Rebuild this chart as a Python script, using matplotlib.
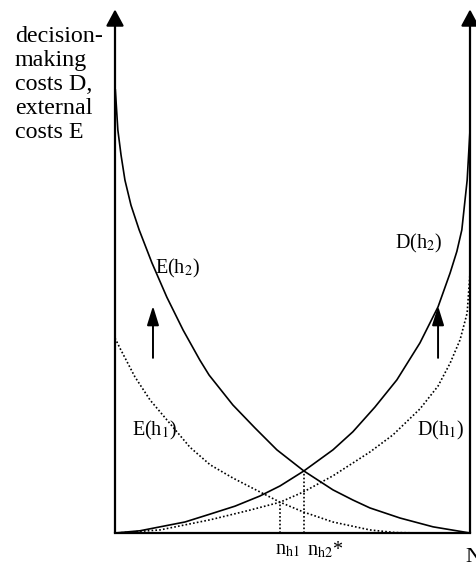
import matplotlib
matplotlib.use("Agg")
import matplotlib.pyplot as plt

plt.rcParams['font.family'] = ['Liberation Serif', 'DejaVu Serif']
plt.rcParams['mathtext.fontset'] = 'stix'

# n: size of the group (0 = left axis, 100 = N), c: cost (0 = horizontal axis)
# E(h2), solid
e2_n = [0.1, 0.8, 1.7, 2.8, 4.5, 6.8, 10.4, 14.6, 19.2, 23.9, 26.5, 33.2, 39.4, 45.6, 53.2,
        61.4, 67.0, 71.8, 80.3, 89.6, 100]
e2_c = [100.7, 91.6, 85.9, 80.2, 74.5, 68.9, 61.4, 53.6, 46.1, 39.3, 35.9, 29.1, 23.9, 18.9, 14.1,
        9.8, 7.5, 5.7, 3.4, 1.4, 0]
# D(h2), solid
d2_n = [0, 7.0, 12.7, 19.7, 26.8, 33.8, 40.8, 46.5, 53.2, 61.4, 67.0, 73.2, 79.4,
        85.9, 91.0, 94.4, 96.3, 97.7, 99.2, 100, 100]
d2_c = [0, 0.5, 1.4, 2.5, 4.3, 6.1, 8.4, 10.7, 14.1, 18.9, 23.0, 28.6, 34.8,
        43.2, 51.4, 59.1, 64.0, 68.9, 80.2, 91.6, 100.7]
# E(h1), dotted
e1_n = [0, 1.4, 5.6, 9.9, 16.3, 21.1, 26.8, 33.2, 38.0, 46.5, 53.0, 61.4, 71.8, 78.9, 86.5]
e1_c = [44.3, 42.0, 35.5, 30.2, 24.1, 19.5, 15.5, 12.5, 10.5, 7.0, 4.8, 2.5, 0.7, 0.1, 0]
# D(h1), dotted
d1_n = [0.6, 12.7, 26.8, 38.0, 46.5, 53.0, 61.4, 71.8, 78.3, 85.9, 91.0, 94.4, 97.2, 99.2, 100]
d1_c = [0, 0.7, 3.0, 5.2, 7.0, 9.3, 13.0, 18.4, 22.3, 28.2, 33.4, 38.6, 43.9, 50.0, 59.1]

# optima
n_h1, c_h1 = 46.5, 7.0
n_h2, c_h2 = 53.2, 14.1

# shift arrows
arrow_n = [10.7, 91.0]
arrow_c0, arrow_c1 = 39.8, 51.6

fig = plt.figure(figsize=(4.76, 5.66), dpi=100)
ax = fig.add_axes([115 / 476, 33 / 566, 355 / 476, 528 / 566])
ax.set_xlim(0, 100)
ax.set_ylim(0, 120)
ax.axis('off')

dots = (0, (1, 1.3))
ax.plot(e2_n, e2_c, color='k', lw=1.2, clip_on=False)
ax.plot(d2_n, d2_c, color='k', lw=1.2, clip_on=False)
ax.plot(e1_n, e1_c, color='k', lw=1.2, ls=dots, clip_on=False)
ax.plot(d1_n, d1_c, color='k', lw=1.2, ls=dots, clip_on=False)
ax.plot([n_h1, n_h1], [0, c_h1], color='k', lw=1.2, ls=dots)
ax.plot([n_h2, n_h2], [0, c_h2], color='k', lw=1.2, ls=dots)

# axes: bottom line and two vertical arrows
ax.plot([0, 100], [0, 0], color='k', lw=1.6, clip_on=False)
for x in [0, 100]:
    ax.annotate('', xy=(x, 119), xytext=(x, 0),
                arrowprops=dict(arrowstyle='-|>,head_width=0.27,head_length=0.5',
                                lw=1.6, color='k', shrinkA=0, shrinkB=0,
                                mutation_scale=20),
                annotation_clip=False)

for x in arrow_n:
    ax.annotate('', xy=(x, arrow_c1), xytext=(x, arrow_c0),
                arrowprops=dict(arrowstyle='-|>,head_width=0.18,head_length=0.58',
                                lw=1.4, color='k', shrinkA=0, shrinkB=0,
                                mutation_scale=20))

fs = 14.5
ax.text(11.3, 60.2, 'E(h$_2$)', fontsize=fs, ha='left', va='center')
ax.text(78.9, 65.9, 'D(h$_2$)', fontsize=fs, ha='left', va='center')
ax.text(4.8, 23.2, 'E(h$_1$)', fontsize=fs, ha='left', va='center')
ax.text(85.1, 23.2, 'D(h$_1$)', fontsize=fs, ha='left', va='center')
ax.text(48.5, -3.9, r'n$_{\mathrm{h1}}$', fontsize=fs, ha='center', va='center')
ax.text(59.2, -3.9, r'n$_{\mathrm{h2}}$*', fontsize=fs, ha='center', va='center')
ax.text(98.6, -5.5, 'N', fontsize=16, ha='left', va='center', clip_on=False)

fig.text(15 / 476, 1 - 26 / 566, 'decision-\nmaking\ncosts D,\nexternal\ncosts E',
         fontsize=17.3, ha='left', va='top', linespacing=1.19)

fig.savefig('out.png', dpi=100)
